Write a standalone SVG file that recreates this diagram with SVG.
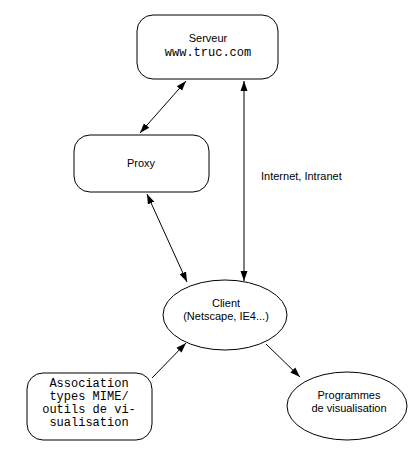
<svg xmlns="http://www.w3.org/2000/svg" width="418" height="458" viewBox="0 0 418 458">
<defs>
<marker id="ah" viewBox="0 0 10 10" refX="10" refY="5" markerWidth="10" markerHeight="10" markerUnits="userSpaceOnUse" orient="auto-start-reverse">
<path d="M0,1.5 L10,5 L0,8.5 Z" fill="#000"/>
</marker>
<style>
.shape{fill:#fff;stroke:#000;stroke-width:1}
.sans{font-family:"Liberation Sans",Arial,sans-serif;font-size:11px;fill:#000}
.mono{font-family:"Liberation Mono","Courier New",monospace;font-size:12px;fill:#000}
.conn{stroke:#000;stroke-width:1;fill:none}
</style>
</defs>
<rect width="418" height="458" fill="#fff"/>
<g id="connectors">
<line class="conn" x1="186" y1="81" x2="140" y2="133" marker-start="url(#ah)" marker-end="url(#ah)"/>
<line class="conn" x1="244" y1="81" x2="244" y2="281" marker-start="url(#ah)" marker-end="url(#ah)"/>
<line class="conn" x1="147" y1="194" x2="187" y2="282" marker-start="url(#ah)" marker-end="url(#ah)"/>
<line class="conn" x1="152" y1="378" x2="186" y2="343" marker-end="url(#ah)"/>
<line class="conn" x1="266" y1="344" x2="300" y2="377" marker-end="url(#ah)"/>
<text class="sans" x="261" y="180">Internet, Intranet</text>
</g>
<g id="serveur">
<rect class="shape" x="137" y="15" width="141" height="64" rx="16" ry="16"/>
<text class="sans" x="208" y="42" text-anchor="middle">Serveur</text>
<text class="mono" x="208" y="56" text-anchor="middle">www.truc.com</text>
</g>
<g id="proxy">
<rect class="shape" x="74" y="135" width="135" height="57" rx="16" ry="16"/>
<text class="sans" x="141" y="167" text-anchor="middle">Proxy</text>
</g>
<g id="client">
<ellipse class="shape" cx="225" cy="315" rx="62" ry="35"/>
<text class="sans" x="226" y="307" text-anchor="middle">Client</text>
<text class="sans" x="226" y="320" text-anchor="middle">(Netscape, IE4...)</text>
</g>
<g id="association">
<rect class="shape" x="27" y="373" width="125" height="67" rx="16" ry="16"/>
<text class="mono" x="89" y="387" text-anchor="middle">Association</text>
<text class="mono" x="89" y="400" text-anchor="middle">types MIME/</text>
<text class="mono" x="89" y="413" text-anchor="middle">outils de vi-</text>
<text class="mono" x="89" y="426" text-anchor="middle">sualisation</text>
</g>
<g id="programmes">
<ellipse class="shape" cx="347" cy="406" rx="60" ry="34"/>
<text class="sans" x="349" y="399" text-anchor="middle">Programmes</text>
<text class="sans" x="349" y="412" text-anchor="middle">de visualisation</text>
</g>
</svg>
